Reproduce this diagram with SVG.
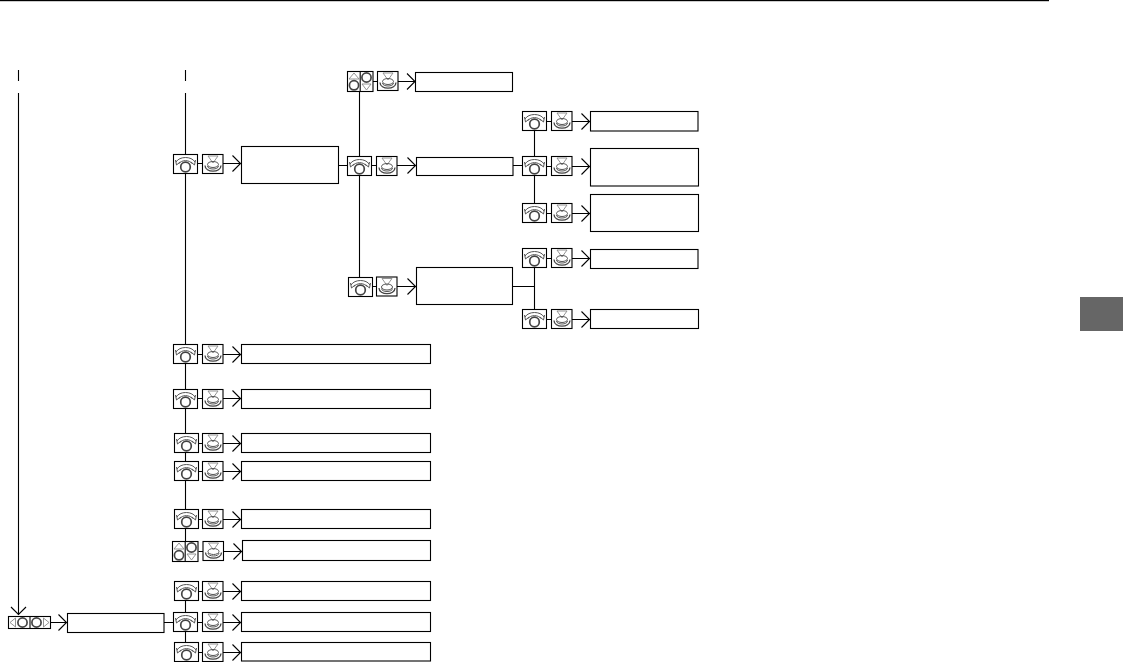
<svg xmlns="http://www.w3.org/2000/svg" width="1123" height="662" viewBox="0 0 1123 662">
<style>
.b{fill:#fff;stroke:#000;stroke-width:1.1}
.l{fill:none;stroke:#000;stroke-width:1.1}
.g{fill:none;stroke:#555;stroke-width:1}
.c{fill:none;stroke:#444;stroke-width:1.7}
.t{fill:#fff;stroke:#888;stroke-width:.9}
</style>
<defs>
<g id="dial">
<rect class="b" width="24" height="19"/>
<path class="g" d="M2.500 7.500C6 1.500 18 1.500 21.500 7.500M5 9.500C8 5 16 5 19 9.500"/>
<path class="g" d="M2 5.500L3 10.500L6.500 7.500M22 5.500L21 10.500L17.500 7.500"/>
<circle class="c" cx="12" cy="12.500" r="4.800"/>
</g>
<g id="press">
<rect class="b" width="20.500" height="19"/>
<path class="t" d="M5.500 1.500H15.500L10.500 8.500Z"/>
<ellipse class="g" cx="10.500" cy="10" rx="5.500" ry="3"/>
<path class="c" style="stroke-width:1.300" d="M2.500 11C2.500 18.500 18.500 18.500 18.500 11"/>
<path class="g" d="M5 11.500C5 15.500 16 15.500 16 11.500"/>
</g>
<g id="updown">
<rect class="b" width="25.500" height="20"/>
<path class="l" d="M12.700 0V20"/>
<path class="t" d="M6.500 1.500L11.500 7.500H1.500Z"/>
<circle class="c" cx="6.500" cy="13.800" r="4.600"/>
<circle class="c" cx="19" cy="6" r="4.600"/>
<path class="t" d="M19 18.500L14.500 12.500H23.500Z"/>
</g>
<g id="leftright">
<rect class="b" width="42" height="12"/>
<path class="l" d="M21.500 0V12"/>
<path class="t" d="M1.500 6L7 1.500V10.500Z"/>
<circle class="c" cx="14" cy="6" r="4.600"/>
<circle class="c" cx="28" cy="6" r="4.600"/>
<path class="t" d="M40.500 6L35 1.500V10.500Z"/>
</g>
<path id="chev" class="l" d="M-8 -8L0 0L-8 8"/>
</defs>

<rect id="rule" x="0" y="0" width="1049" height="1.200" fill="#000"/>
<rect id="tab" x="1080" y="297" width="43" height="34" fill="#666"/>

<g id="connectors">
<path class="l" d="M18.500 70V81M185.500 70V81M18.500 93V615M185.500 93V541M185.500 581V642"/>
<path class="l" d="M359.500 91V277M534.500 130V204M534.500 268V310M513 165.500H523M513 286.500H534.500M164 622.500H173.500M50.500 622.500H67"/>
<path class="l" d="M198 163.500H202M223 163.500H241M338.500 165.500H348M372 165.500H376.500M396.500 165.500H416.500"/>
<path class="l" d="M372.500 81.500H377.500M397.500 81.500H415.500M372 286.500H376.500M396.500 286.500H416.500"/>
<path class="l" d="M546.500 121.500H551.500M572 121.500H590.500M546.500 166.500H551.500M572 166.500H590.500M546.500 213.500H551.500M572 213.500H590.500M546.500 258.500H551.500M572 258.500H590.500M546.500 319.500H551.500M572 319.500H590.500"/>
<path class="l" d="M198 354.500H202M223 354.500H241M198 398.500H202M223 398.500H241M198.500 443.500H202M223 443.500H241M198.500 471.500H202M223 471.500H241M198.500 519.500H202M223 519.500H241M198.500 551.500H203M223 551.500H242M198.500 591.500H202M223 591.500H241M197.500 622.500H202M223 622.500H241M198.500 652.500H202M223 652.500H241"/>
<use href="#chev" x="240.500" y="163.500"/><use href="#chev" x="415" y="81.500"/><use href="#chev" x="415.500" y="165.500"/><use href="#chev" x="415.500" y="286.500"/>
<use href="#chev" x="589.500" y="121.500"/><use href="#chev" x="589.500" y="166.500"/><use href="#chev" x="589.500" y="213.500"/><use href="#chev" x="589.500" y="258.500"/><use href="#chev" x="589.500" y="319.500"/>
<use href="#chev" x="240.500" y="354.500"/><use href="#chev" x="240.500" y="398.500"/><use href="#chev" x="240.500" y="443.500"/><use href="#chev" x="240.500" y="471.500"/><use href="#chev" x="240.500" y="519.500"/><use href="#chev" x="241.500" y="551.500"/><use href="#chev" x="240.500" y="591.500"/><use href="#chev" x="240.500" y="622.500"/><use href="#chev" x="240.500" y="652.500"/>
<use href="#chev" x="66.500" y="622.500"/>
<path class="l" d="M11 607L18.500 614.500L26 607"/>
</g>

<g id="n-settings"><use href="#dial" x="173.500" y="154.500"/><use href="#press" x="202.500" y="154.500"/><rect class="b" x="241.500" y="146.500" width="97" height="37"/></g>
<g id="n-top"><use href="#updown" x="347.500" y="71.500"/><use href="#press" x="377.500" y="71.500"/><rect class="b" x="415.500" y="72.500" width="97" height="19"/></g>
<g id="n-mid"><use href="#dial" x="347.500" y="156.500"/><use href="#press" x="376.500" y="156.500"/><rect class="b" x="416.500" y="157.500" width="96.500" height="18"/></g>
<g id="n-low"><use href="#dial" x="348.500" y="277.500"/><use href="#press" x="376.500" y="277"/><rect class="b" x="416.500" y="267.500" width="96" height="37"/></g>
<g id="n-r1"><use href="#dial" x="522.500" y="111.500"/><use href="#press" x="551.500" y="111.500"/><rect class="b" x="590.500" y="111.500" width="107.500" height="19.500"/></g>
<g id="n-r2"><use href="#dial" x="522.500" y="156.500"/><use href="#press" x="551.500" y="156.500"/><rect class="b" x="590.500" y="148.500" width="108" height="37.500"/></g>
<g id="n-r3"><use href="#dial" x="522.500" y="203.500"/><use href="#press" x="551.500" y="203.500"/><rect class="b" x="590.500" y="194.500" width="108" height="37"/></g>
<g id="n-r4"><use href="#dial" x="522.500" y="248.500"/><use href="#press" x="551.500" y="248.500"/><rect class="b" x="590.500" y="249.500" width="107.500" height="19"/></g>
<g id="n-r5"><use href="#dial" x="522.500" y="309.500"/><use href="#press" x="551.500" y="309.500"/><rect class="b" x="590.500" y="309.500" width="108" height="19"/></g>
<g id="n-1"><use href="#dial" x="173.500" y="344.500"/><use href="#press" x="202.500" y="344.500"/><rect class="b" x="241.500" y="344.500" width="189" height="19"/></g>
<g id="n-2"><use href="#dial" x="173.500" y="389.500"/><use href="#press" x="202.500" y="389.500"/><rect class="b" x="241.500" y="389.500" width="189" height="19"/></g>
<g id="n-3"><use href="#dial" x="174.500" y="433.500"/><use href="#press" x="202.500" y="433.500"/><rect class="b" x="241.500" y="433.500" width="189" height="19"/></g>
<g id="n-4"><use href="#dial" x="174.500" y="461.500"/><use href="#press" x="202.500" y="461.500"/><rect class="b" x="241.500" y="461.500" width="189" height="19"/></g>
<g id="n-5"><use href="#dial" x="174.500" y="509.500"/><use href="#press" x="202.500" y="509.500"/><rect class="b" x="241.500" y="509.500" width="189" height="19"/></g>
<g id="n-6"><use href="#updown" x="172.500" y="541.500"/><use href="#press" x="203" y="541.500"/><rect class="b" x="242.500" y="540.500" width="188" height="20"/></g>
<g id="n-7"><use href="#dial" x="174.500" y="581.500"/><use href="#press" x="202.500" y="581.500"/><rect class="b" x="241.500" y="581.500" width="189" height="19"/></g>
<g id="n-8"><use href="#dial" x="173.500" y="612.500"/><use href="#press" x="202.500" y="612.500"/><rect class="b" x="241.500" y="612.500" width="189" height="19"/></g>
<g id="n-9"><use href="#dial" x="174.500" y="642.500"/><use href="#press" x="202.500" y="642.500"/><rect class="b" x="241.500" y="642.500" width="189" height="18.500"/></g>
<g id="n-left"><use href="#leftright" x="8.500" y="616.500"/><rect class="b" x="67.500" y="613.500" width="96.500" height="19"/></g>
</svg>
